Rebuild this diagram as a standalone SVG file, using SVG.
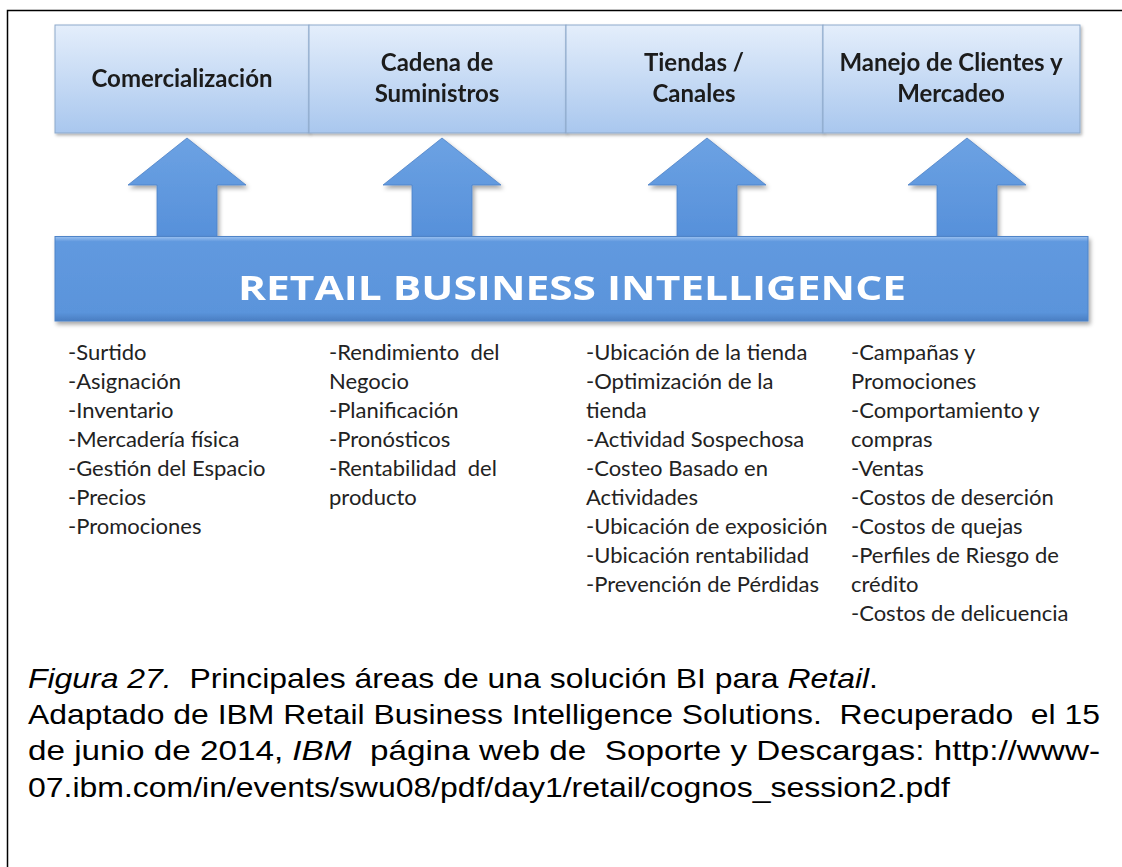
<svg xmlns="http://www.w3.org/2000/svg" width="1122" height="867" viewBox="0 0 1122 867">
<defs>
<linearGradient id="boxg" x1="0" y1="0" x2="0" y2="1">
<stop offset="0" stop-color="#E4EEFB"/>
<stop offset="1" stop-color="#A9C7EE"/>
</linearGradient>
<linearGradient id="arrg" x1="0" y1="0" x2="0" y2="1">
<stop offset="0" stop-color="#6CA2E3"/>
<stop offset="1" stop-color="#5690DA"/>
</linearGradient>
<linearGradient id="barg" x1="0" y1="0" x2="0" y2="1">
<stop offset="0" stop-color="#9CC2F0"/>
<stop offset="0.06" stop-color="#6199DF"/>
<stop offset="0.9" stop-color="#5A94DB"/>
<stop offset="1" stop-color="#4A7EC2"/>
</linearGradient>
<filter id="sh" x="-5%" y="-10%" width="115%" height="130%">
<feDropShadow dx="2" dy="3" stdDeviation="2" flood-color="#000" flood-opacity="0.35"/>
</filter>
<filter id="shs" x="-5%" y="-10%" width="115%" height="130%">
<feDropShadow dx="1.5" dy="2" stdDeviation="1.5" flood-color="#000" flood-opacity="0.3"/>
</filter>
</defs>
<style>
.frame{stroke:#000;stroke-width:1.5;fill:none}
.box{fill:url(#boxg);stroke:#8DA9CB;stroke-width:1}
.bt{font-family:Lato,"Open Sans",sans-serif;font-weight:700;font-size:24px;fill:#1b1b1b;text-anchor:middle}
.arr{fill:url(#arrg);stroke:#4C82C6;stroke-width:0.8}
.bar{fill:url(#barg);stroke:#4F84C8;stroke-width:1}
.rbi{font-family:"Open Sans",Lato,sans-serif;font-weight:700;font-size:34px;fill:#fff}
.li{font-family:Lato,"Open Sans",sans-serif;font-size:22px;fill:#222}
.cap{font-family:"Liberation Sans",Arial,sans-serif;font-size:28px;fill:#000}
.it{font-style:italic}
</style>
<rect width="1122" height="867" fill="#fff"/>
<path class="frame" d="M7.5 867 V10.5 H1122"/>

<g id="box-comercializacion" filter="url(#shs)">
<rect class="box" x="55" y="25" width="254" height="108"/>
<text class="bt" x="182" y="87">Comercialización</text>
</g>
<g id="box-cadena" filter="url(#shs)">
<rect class="box" x="309" y="25" width="257" height="108"/>
<text class="bt" x="437" y="71">Cadena de</text>
<text class="bt" x="437" y="102">Suministros</text>
</g>
<g id="box-tiendas" filter="url(#shs)">
<rect class="box" x="566" y="25" width="257" height="108"/>
<text class="bt" x="694" y="71">Tiendas /</text>
<text class="bt" x="694" y="102">Canales</text>
</g>
<g id="box-manejo" filter="url(#shs)">
<rect class="box" x="823" y="25" width="257" height="108"/>
<text class="bt" x="951" y="71">Manejo de Clientes y</text>
<text class="bt" x="951" y="102">Mercadeo</text>
</g>

<g id="connectors" filter="url(#sh)">
<path class="arr" d="M187 138 L246 185 L217 185 L217 238 L157 238 L157 185 L128 185 Z"/>
<path class="arr" d="M442 138 L501 185 L472 185 L472 238 L412 238 L412 185 L383 185 Z"/>
<path class="arr" d="M707 138 L766 185 L737 185 L737 238 L677 238 L677 185 L648 185 Z"/>
<path class="arr" d="M967 138 L1026 185 L997 185 L997 238 L937 238 L937 185 L908 185 Z"/>
</g>

<g id="bar-rbi" filter="url(#sh)">
<rect class="bar" x="55" y="236.5" width="1033" height="84.5"/>
<text class="rbi" x="238" y="300" textLength="668" lengthAdjust="spacingAndGlyphs">RETAIL BUSINESS INTELLIGENCE</text>
</g>

<g id="list-comercializacion" class="li">
<text x="68" y="360">-Surtido</text>
<text x="68" y="389">-Asignación</text>
<text x="68" y="418">-Inventario</text>
<text x="68" y="447">-Mercadería física</text>
<text x="68" y="476">-Gestión del Espacio</text>
<text x="68" y="505">-Precios</text>
<text x="68" y="534">-Promociones</text>
</g>
<g id="list-cadena" class="li">
<text x="329" y="360" xml:space="preserve">-Rendimiento  del</text>
<text x="329" y="389">Negocio</text>
<text x="329" y="418">-Planificación</text>
<text x="329" y="447">-Pronósticos</text>
<text x="329" y="476" xml:space="preserve">-Rentabilidad  del</text>
<text x="329" y="505">producto</text>
</g>
<g id="list-tiendas" class="li">
<text x="586" y="360">-Ubicación de la tienda</text>
<text x="586" y="389">-Optimización de la</text>
<text x="586" y="418">tienda</text>
<text x="586" y="447">-Actividad Sospechosa</text>
<text x="586" y="476">-Costeo Basado en</text>
<text x="586" y="505">Actividades</text>
<text x="586" y="534">-Ubicación de exposición</text>
<text x="586" y="563">-Ubicación rentabilidad</text>
<text x="586" y="592">-Prevención de Pérdidas</text>
</g>
<g id="list-manejo" class="li">
<text x="851" y="360">-Campañas y</text>
<text x="851" y="389">Promociones</text>
<text x="851" y="418">-Comportamiento y</text>
<text x="851" y="447">compras</text>
<text x="851" y="476">-Ventas</text>
<text x="851" y="505">-Costos de deserción</text>
<text x="851" y="534">-Costos de quejas</text>
<text x="851" y="563">-Perfiles de Riesgo de</text>
<text x="851" y="592">crédito</text>
<text x="851" y="621">-Costos de delicuencia</text>
</g>

<g id="caption" class="cap">
<text x="28" y="688" textLength="850" lengthAdjust="spacingAndGlyphs" xml:space="preserve"><tspan class="it">Figura 27.</tspan>  Principales áreas de una solución BI para <tspan class="it">Retail</tspan>.</text>
<text x="28" y="724" textLength="1072" lengthAdjust="spacingAndGlyphs" xml:space="preserve">Adaptado de IBM Retail Business Intelligence Solutions.  Recuperado  el 15</text>
<text x="28" y="760" textLength="1072" lengthAdjust="spacingAndGlyphs" xml:space="preserve">de junio de 2014, <tspan class="it">IBM</tspan>  página web de  Soporte y Descargas: http://www-</text>
<text x="28" y="797" textLength="922" lengthAdjust="spacingAndGlyphs">07.ibm.com/in/events/swu08/pdf/day1/retail/cognos_session2.pdf</text>
</g>
</svg>
